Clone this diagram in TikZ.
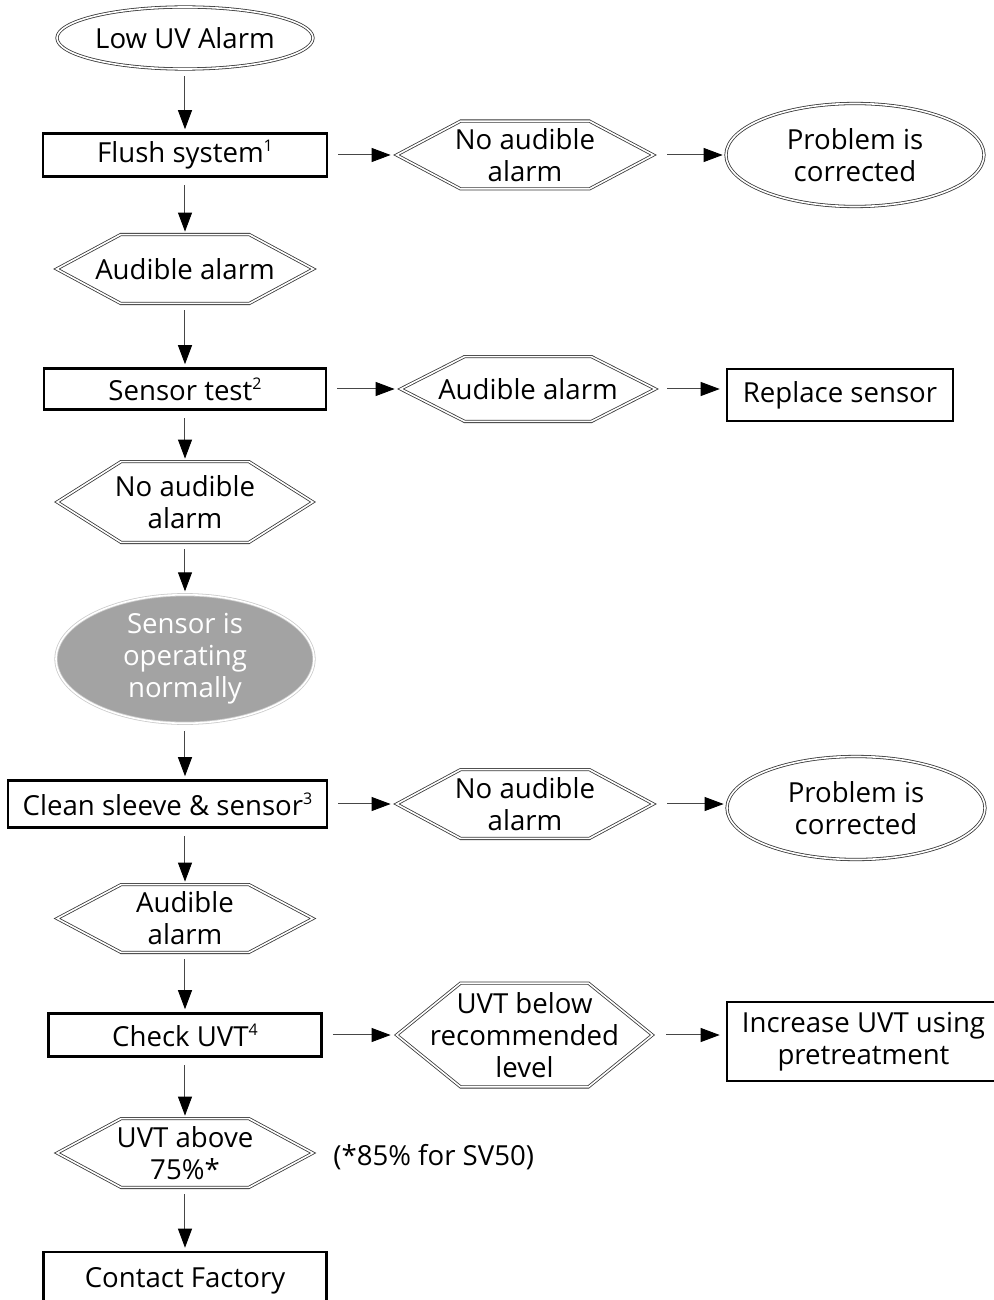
\documentclass[tikz,border=0pt]{standalone}
\usepackage{fontspec}
\setmainfont{Open Sans}
\usetikzlibrary{positioning,arrows.meta,calc,shapes.geometric}
\definecolor{shade}{RGB}{163,163,163}
\definecolor{edge}{RGB}{55,55,55}
\definecolor{shaft}{RGB}{70,70,70}
\newcommand{\supn}[1]{\raisebox{0.75ex}{\fontsize{8}{8}\selectfont #1}}
\tikzset{
  txt/.style={font=\fontsize{13.8}{16}\selectfont, align=center, inner sep=0pt},
  proc/.style={txt, draw, line width=1.3pt},
  oval/.style={txt, ellipse, draw=edge, double, double distance=0.8pt, line width=0.4pt},
  hexnode/.style={txt},
  hexline/.style={draw=edge, double, double distance=0.8pt, line width=0.4pt, line join=miter},
  flow/.style={draw=shaft, double, double distance=0.45pt, line width=0.45pt,
    -{Triangle[length=9.5pt,width=7pt,color=black]}, shorten <=3.5pt, shorten >=1.5pt}
}
\newcommand{\hexframe}[1]{%
  \draw[hexline] (#1.west) -- ($(#1.north west)+(64,0)$) -- ($(#1.north east)+(-64,0)$)
    -- (#1.east) -- ($(#1.south east)+(-64,0)$) -- ($(#1.south west)+(64,0)$) -- cycle;}
\begin{document}
\begin{tikzpicture}[x=0.5pt,y=-0.5pt]
\clip (0,0) rectangle (994,1300);
% main column
\node[oval,minimum width=128pt,minimum height=31pt] (lowuv) at (185,38) {Low UV Alarm};
\node[proc,minimum width=142pt,minimum height=21.5pt] (flush) at (185,155) {Flush system\supn{1}};
\node[hexnode,minimum width=128pt,minimum height=34pt] (audA) at (185,269) {Audible alarm};
\node[proc,minimum width=141pt,minimum height=20.5pt] (stest) at (185,389) {Sensor test\supn{2}};
\node[hexnode,minimum width=127.5pt,minimum height=40pt] (noB) at (185,502) {No audible\\alarm};
\node[oval,fill=shade,text=white,draw=black!20,minimum width=129pt,minimum height=62pt] (senok) at (185,659) {Sensor is\\operating\\normally};
\node[proc,minimum width=159.5pt,minimum height=23.5pt] (clean) at (167.5,804) {Clean sleeve \& sensor\supn{3}};
\node[hexnode,minimum width=127.5pt,minimum height=33.5pt] (audC) at (185,918.5) {Audible\\alarm};
\node[proc,minimum width=136.5pt,minimum height=21.5pt] (uvt) at (185,1035) {Check UVT\supn{4}};
\node[hexnode,minimum width=127.5pt,minimum height=34pt] (above) at (185,1153) {UVT above\\75\%*};
\node[txt,anchor=west] (note) at (333,1157) {(*85\% for SV50)};
\node[proc,minimum width=141.5pt,minimum height=29pt] (contact) at (185,1281) {Contact Factory};
% side branches
\node[hexnode,minimum width=128pt,minimum height=33.5pt] (noA) at (525,155) {No audible\\alarm};
\node[oval,minimum width=129pt,minimum height=51.5pt] (fixA) at (855,155) {Problem is\\corrected};
\node[hexnode,minimum width=127pt,minimum height=32pt] (audB) at (528,389) {Audible alarm};
\node[proc,minimum width=113pt,minimum height=26pt] (swap) at (840,395) {Replace sensor};
\node[hexnode,minimum width=128pt,minimum height=34pt] (noC) at (525,804) {No audible\\alarm};
\node[oval,minimum width=129pt,minimum height=51.5pt] (fixB) at (856,808) {Problem is\\corrected};
\node[hexnode,minimum width=127.5pt,minimum height=51.5pt] (below) at (524.5,1035) {UVT below\\recommended\\level};
\node[proc,minimum width=136.5pt,minimum height=39.5pt] (boost) at (863.5,1041.5) {Increase UVT using\\pretreatment};
% hexagon outlines
\foreach \h in {audA,noB,audC,above,noA,audB,noC,below}
  \hexframe{\h};
% connectors
\draw[flow] (lowuv) -- (flush);
\draw[flow] (flush) -- (audA);
\draw[flow] (audA) -- (stest);
\draw[flow] (stest) -- (noB);
\draw[flow] (noB) -- (senok);
\draw[flow] (senok) -- (senok |- clean.north);
\draw[flow] (clean.south -| audC) -- (audC);
\draw[flow] (audC) -- (uvt);
\draw[flow] (uvt) -- (above);
\draw[flow] (above) -- (contact);
\draw[flow,shorten <=5pt,shorten >=3pt] (flush) -- (noA);
\draw[flow,shorten <=7pt] (noA) -- (fixA);
\draw[flow,shorten <=5pt,shorten >=3pt] (stest) -- (audB);
\draw[flow,shorten <=6pt,shorten >=3pt] (audB) -- (audB -| swap.west);
\draw[flow,shorten <=5pt,shorten >=3pt] (clean.east |- noC) -- (noC);
\draw[flow,shorten <=7pt] (noC) -- (noC -| fixB.west);
\draw[flow,shorten <=5pt,shorten >=3pt] (uvt) -- (below);
\draw[flow,shorten <=7pt,shorten >=3pt] (below) -- (below -| boost.west);
\end{tikzpicture}
\end{document}
